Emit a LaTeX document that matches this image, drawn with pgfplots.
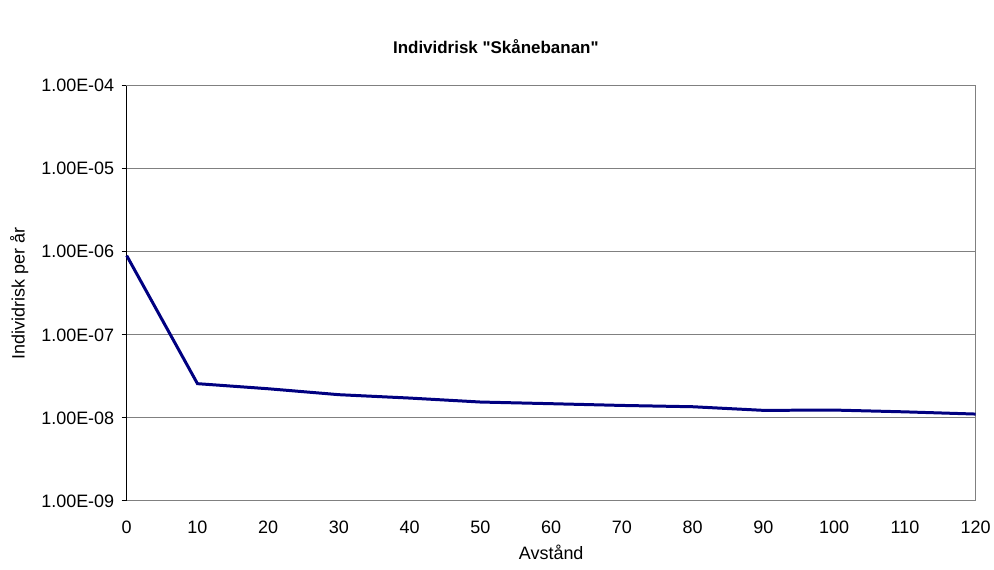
\documentclass[border=0pt]{standalone}
\usepackage{fontspec}
\setmainfont{Liberation Sans}
\newfontfamily\tfont{Liberation Sans}[Ligatures=ResetAll]
\usepackage{pgfplots}
\pgfplotsset{compat=1.18}
\definecolor{line}{RGB}{0,0,128}
\definecolor{gridg}{RGB}{128,128,128}
\begin{document}
\begin{tikzpicture}
\begin{axis}[
  scale only axis,
  width=851pt, height=416pt,
  ymode=log,
  xmin=0, xmax=120, ymin=1e-9, ymax=1e-4,
  xtick={0,10,...,120},
  ytick={1e-9,1e-8,1e-7,1e-6,1e-5,1e-4},
  yticklabels={1.00E-09,1.00E-08,1.00E-07,1.00E-06,1.00E-05,1.00E-04},
  minor tick length=0pt,
  minor tick style={draw=none},
  ymajorgrids=true,
  grid style={gridg, line width=1pt},
  x axis line style={draw=none},
  y axis line style={draw=none},
  tick style={black, line width=1pt},
  ytick pos=left, xtick pos=bottom,
  xtick style={draw=none},
  major tick length=5pt,
  tick align=outside,
  every tick label/.style={font=\fontsize{18}{20}\selectfont, text=black},
  yticklabel style={xshift=-4pt},
  xticklabel style={yshift=-12pt},
  /pgf/number format/assume math mode=true,
  xlabel={Avstånd},
  ylabel={Individrisk per år},
  label style={font=\fontsize{18}{20}\selectfont},
  xlabel style={yshift=-4pt},
  ylabel style={yshift=6pt},
  clip=false,
]
\draw[gridg, line width=1.2pt] (rel axis cs:0,0) rectangle (rel axis cs:1,1);
\draw[black, line width=1.2pt] (rel axis cs:0,0) -- (rel axis cs:0,1);
\addplot[line, line width=3pt, mark=none] coordinates {
(0,9.0e-7) (10,2.58e-8) (20,2.24e-8) (30,1.90e-8) (40,1.73e-8) (50,1.55e-8)
(60,1.48e-8) (70,1.41e-8) (80,1.36e-8) (90,1.23e-8) (100,1.24e-8) (110,1.18e-8) (120,1.11e-8)
};
\coordinate (bl) at (rel axis cs:0,0);
\coordinate (tr) at (rel axis cs:1,1);
\end{axis}
\path[use as bounding box] ([shift={(-127pt,-69pt)}]bl) rectangle ([shift={(16pt,86pt)}]tr);
\node[font=\tfont\bfseries\fontsize{17}{19}\selectfont] at ([shift={(370pt,455pt)}]bl) {Individrisk "Skånebanan"};
\end{tikzpicture}
\end{document}
